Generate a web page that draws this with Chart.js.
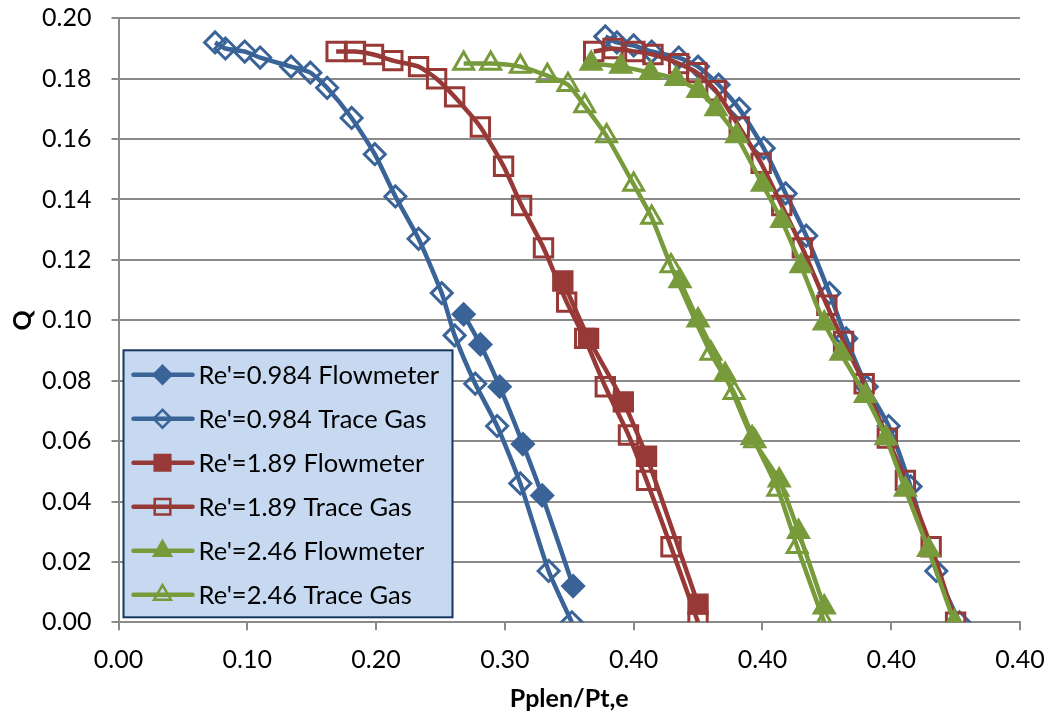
<!DOCTYPE html>
<html><head><meta charset="utf-8">
<script src="https://cdn.jsdelivr.net/npm/chart.js@4.4.1/dist/chart.umd.min.js"></script>
<style>html,body{margin:0;padding:0;background:#fff}#wrap{width:1052px;height:717px}</style>
</head><body><div id="wrap"><canvas id="c" width="1052" height="717"></canvas></div>
<script>
// ---- data ----
const xTickLabels = ['0.00','0.10','0.20','0.30','0.40','0.40','0.40','0.40'];

const blueFlowX = [0.268, 0.281, 0.296, 0.314, 0.329, 0.353];
const blueFlowY = [0.102, 0.092, 0.078, 0.059, 0.042, 0.012];

const blueGasX = [0.075, 0.083, 0.098, 0.110, 0.134, 0.149, 0.162, 0.181, 0.199, 0.215, 0.233, 0.251, 0.261, 0.277, 0.294, 0.312, 0.334, 0.352];
const blueGasY = [0.192, 0.190, 0.189, 0.187, 0.184, 0.182, 0.177, 0.167, 0.155, 0.141, 0.127, 0.109, 0.095, 0.079, 0.065, 0.046, 0.017, 0.000];

const redFlowX = [0.345, 0.365, 0.392, 0.410, 0.450];
const redFlowY = [0.113, 0.094, 0.073, 0.055, 0.006];

const redGasX = [0.169, 0.184, 0.198, 0.213, 0.233, 0.247, 0.261, 0.281, 0.299, 0.313, 0.330, 0.348, 0.362, 0.378, 0.396, 0.410, 0.429, 0.450];
const redGasY = [0.189, 0.189, 0.188, 0.186, 0.184, 0.180, 0.174, 0.164, 0.151, 0.138, 0.124, 0.106, 0.094, 0.078, 0.062, 0.047, 0.025, 0.000];

const greenFlowX = [0.436, 0.450, 0.471, 0.492, 0.513, 0.528, 0.548];
const greenFlowY = [0.113, 0.100, 0.082, 0.061, 0.047, 0.030, 0.005];

const greenGasX = [0.268, 0.289, 0.312, 0.333, 0.349, 0.362, 0.379, 0.400, 0.414, 0.429, 0.460, 0.478, 0.494, 0.512, 0.527, 0.548];
const greenGasY = [0.185, 0.185, 0.184, 0.181, 0.178, 0.171, 0.161, 0.145, 0.134, 0.118, 0.089, 0.076, 0.060, 0.044, 0.025, 0.000];

// right-hand group (no legend entries)
const blue2X = [0.378, 0.387, 0.400, 0.414, 0.435, 0.450, 0.466, 0.482, 0.501, 0.518, 0.534, 0.552, 0.565, 0.581, 0.598, 0.615, 0.635, 0.653];
const blue2Y = [0.194, 0.192, 0.191, 0.189, 0.187, 0.184, 0.178, 0.170, 0.157, 0.142, 0.128, 0.109, 0.094, 0.078, 0.065, 0.045, 0.017, 0.000];

const red2X = [0.369, 0.384, 0.401, 0.415, 0.435, 0.449, 0.464, 0.482, 0.499, 0.515, 0.531, 0.550, 0.563, 0.579, 0.597, 0.611, 0.631, 0.650];
const red2Y = [0.189, 0.190, 0.189, 0.188, 0.185, 0.182, 0.176, 0.164, 0.152, 0.138, 0.124, 0.105, 0.093, 0.079, 0.061, 0.047, 0.025, 0.000];

const green2X = [0.367, 0.390, 0.413, 0.433, 0.450, 0.464, 0.480, 0.500, 0.515, 0.530, 0.548, 0.561, 0.580, 0.596, 0.611, 0.629, 0.649];
const green2Y = [0.185, 0.184, 0.182, 0.180, 0.176, 0.170, 0.161, 0.145, 0.133, 0.118, 0.099, 0.089, 0.075, 0.061, 0.044, 0.024, 0.000];

const seriesLabels = ["Re'=0.984 Flowmeter", "Re'=0.984 Trace Gas", "Re'=1.89 Flowmeter", "Re'=1.89 Trace Gas", "Re'=2.46 Flowmeter", "Re'=2.46 Trace Gas"];

// ---- styling ----
const BLUE = '#3a6398', RED = '#973a37', GREEN = '#779a3b';
const FONT = 'Lato, "Open Sans", sans-serif';

function pts(xs, ys) { return xs.map((x, i) => ({x: x, y: ys[i]})); }
function ds(label, xs, ys, color, style, filled, radius, order, legend) {
  return {
    label: label, data: pts(xs, ys), showLine: true,
    borderColor: color, backgroundColor: color, borderWidth: 4.5,
    pointStyle: style, pointRadius: radius, pointBorderWidth: 3,
    pointBorderColor: color, pointBackgroundColor: filled ? color : 'rgba(0,0,0,0)',
    tension: 0.2, order: order, inLegend: legend
  };
}

const datasets = [
  ds(seriesLabels[0], blueFlowX, blueFlowY, BLUE, 'rectRot', true, 10.5, 5, true),
  ds(seriesLabels[1], blueGasX, blueGasY, BLUE, 'rectRot', false, 10.5, 6, true),
  ds(seriesLabels[2], redFlowX, redFlowY, RED, 'rect', true, 13, 3, true),
  ds(seriesLabels[3], redGasX, redGasY, RED, 'rect', false, 13, 4, true),
  ds(seriesLabels[4], greenFlowX, greenFlowY, GREEN, 'triangle', true, 11.5, 1, true),
  ds(seriesLabels[5], greenGasX, greenGasY, GREEN, 'triangle', false, 11.5, 2, true),
  ds('', blue2X, blue2Y, BLUE, 'rectRot', false, 10.5, 9, false),
  ds('', red2X, red2Y, RED, 'rect', false, 13, 8, false),
  ds('', green2X, green2Y, GREEN, 'triangle', true, 11.5, 7, false)
];

const legendPlugin = {
  id: 'boxLegend',
  afterDatasetsDraw(chart) {
    const ctx = chart.ctx, a = chart.chartArea;
    const x0 = a.left + 5, y0 = a.bottom - 272, w = 329, h = 267;
    ctx.save();
    ctx.fillStyle = '#c6d9f1';
    ctx.fillRect(x0, y0, w, h);
    ctx.lineWidth = 2;
    ctx.strokeStyle = '#17375e';
    ctx.strokeRect(x0, y0, w, h);
    const items = chart.data.datasets.filter(d => d.inLegend);
    items.forEach((d, i) => {
      const y = y0 + 24.5 + i * 44;
      ctx.strokeStyle = d.borderColor;
      ctx.lineWidth = 4.5;
      ctx.lineCap = 'round';
      ctx.beginPath(); ctx.moveTo(x0 + 10, y); ctx.lineTo(x0 + 69, y); ctx.stroke();
      ctx.fillStyle = d.pointBackgroundColor;
      ctx.strokeStyle = d.pointBorderColor;
      ctx.lineWidth = 2.5;
      Chart.helpers.drawPoint(ctx, {pointStyle: d.pointStyle, radius: d.pointRadius * 0.85, rotation: 0, borderWidth: 2.5}, x0 + 39, y);
      ctx.fillStyle = '#000';
      ctx.font = '25.5px ' + FONT;
      ctx.textBaseline = 'middle';
      ctx.textAlign = 'left';
      ctx.fillText(d.label, x0 + 75, y + 1);
    });
    ctx.restore();
  }
};

new Chart(document.getElementById('c'), {
  type: 'scatter',
  data: { datasets: datasets },
  options: {
    responsive: false, animation: false, devicePixelRatio: 1,
    layout: { padding: { top: 18.3, right: 32, left: 0, bottom: 0 } },
    plugins: { legend: { display: false }, tooltip: { enabled: false } },
    scales: {
      x: {
        type: 'linear', min: 0, max: 0.7,
        afterFit(s) { s.height = 94.7; s.paddingLeft = 0; s.paddingRight = 0; },
        ticks: {
          stepSize: 0.1, color: '#000', padding: 15, maxRotation: 0, autoSkip: false,
          font: { family: FONT, size: 25 },
          callback: (v, i) => xTickLabels[i]
        },
        grid: { drawOnChartArea: false, drawTicks: true, tickLength: 8, color: '#8a8a8a', lineWidth: 2 },
        border: { display: true, color: '#8a8a8a', width: 2 },
        title: { display: true, text: 'Pplen/Pt,e', color: '#000', padding: { top: 0, bottom: 3 },
                 font: { family: FONT, size: 25, weight: 'bold' } }
      },
      y: {
        type: 'linear', min: 0, max: 0.2,
        afterFit(s) { s.width = 118.5; s.paddingTop = 0; s.paddingBottom = 0; },
        ticks: {
          stepSize: 0.02, color: '#000', padding: 20,
          font: { family: FONT, size: 25 },
          callback: v => v.toFixed(2)
        },
        grid: { drawOnChartArea: true, drawTicks: true, tickLength: 7, color: '#8a8a8a', lineWidth: 2 },
        border: { display: true, color: '#8a8a8a', width: 2 },
        title: { display: true, text: 'Q', color: '#000', padding: { top: 8, bottom: 0 },
                 font: { family: FONT, size: 25, weight: 'bold' } }
      }
    }
  },
  plugins: [legendPlugin]
});
</script></body></html>
